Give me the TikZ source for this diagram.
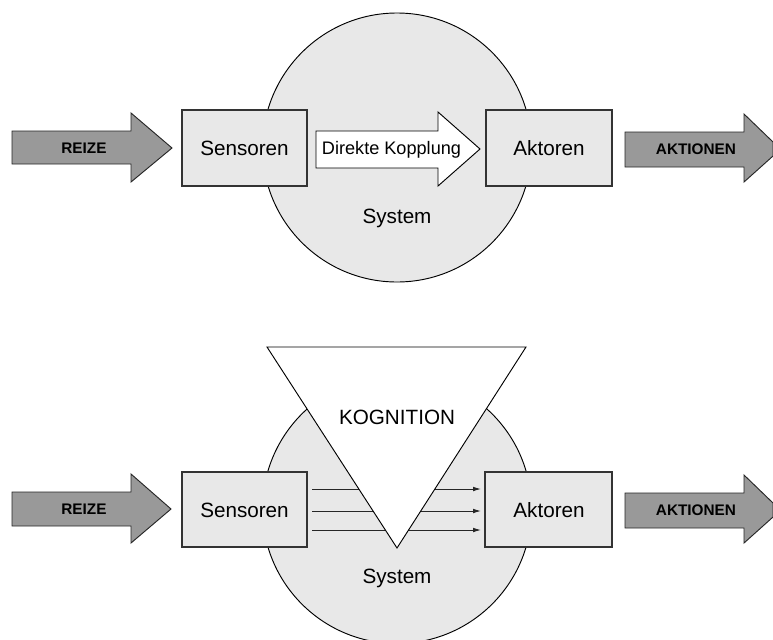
\documentclass[tikz,border=0pt]{standalone}
\usepackage{fontspec}
\setmainfont{Liberation Sans}
\usetikzlibrary{arrows.meta}
\definecolor{arrowgray}{HTML}{999999}
\definecolor{lightfill}{HTML}{E8E8E8}
\tikzset{
  sysdisc/.style={draw=black, line width=0.7pt, fill=lightfill},
  blockbox/.style={draw=black!80, line width=0.8pt, fill=lightfill},
  grayarrow/.style={draw=black!85, line width=0.7pt, fill=arrowgray},
  whitearrow/.style={draw=black, line width=0.7pt, fill=white},
  bigtext/.style={font=\fontsize{15.5}{18}\selectfont, inner sep=0pt},
  midtext/.style={font=\fontsize{13.6}{16}\selectfont, inner sep=0pt},
  boldtext/.style={font=\bfseries\fontsize{11.5}{14}\selectfont, inner sep=0pt},
  flowline/.style={draw=black!85, line width=0.7pt, -{Latex[length=6pt,width=3.5pt]}}
}
\begin{document}
\begin{tikzpicture}[x=0.75pt,y=-0.75pt]
\useasboundingbox (0,0) rectangle (773,639);
% ===== top diagram =====
\draw[sysdisc] (397,147.5) circle [radius=134.5];
\node[bigtext] (sys1) at (397,218) {System};
\draw[grayarrow] (12,131) -- (131,131) -- (131,113) -- (172,148) -- (131,182) -- (131,164) -- (12,164) -- cycle;
\node[boldtext] (reize1) at (84,148.5) {REIZE};
\draw[blockbox] (182,110) rectangle (307,186);
\node[bigtext] (sens1) at (244.5,148) {Sensoren};
\draw[whitearrow] (316,131) -- (438,131) -- (438,112) -- (480,149) -- (438,186) -- (438,168) -- (316,168) -- cycle;
\node[midtext] (dk) at (391.5,149.5) {Direkte Kopplung};
\draw[blockbox] (486,110) rectangle (612,186);
\node[bigtext] (akt1) at (549,148) {Aktoren};
\draw[grayarrow] (625,132) -- (744,132) -- (744,114) -- (773,142) -- (773,156) -- (744,182) -- (744,167) -- (625,167) -- cycle;
\node[boldtext] (akti1) at (696,149) {AKTIONEN};
% ===== bottom diagram =====
\draw[sysdisc] (397,509) circle [radius=134.5];
\node[bigtext] (sys2) at (397,578) {System};
\draw[grayarrow] (12,492) -- (131,492) -- (131,474) -- (171,509) -- (131,543) -- (131,526) -- (12,526) -- cycle;
\node[boldtext] (reize2) at (84,509.5) {REIZE};
\draw[blockbox] (182,472) rectangle (307,547);
\node[bigtext] (sens2) at (244.5,510) {Sensoren};
\draw[blockbox] (485,472) rectangle (612,547);
\node[bigtext] (akt2) at (549,510) {Aktoren};
\draw[grayarrow] (625,493) -- (744,493) -- (744,475) -- (773,503) -- (773,517) -- (744,543) -- (744,528) -- (625,528) -- cycle;
\node[boldtext] (akti2) at (696,510) {AKTIONEN};
% flow lines
\coordinate (s1) at (312,489); \coordinate (e1) at (481,489);
\coordinate (s2) at (312,511); \coordinate (e2) at (481,511);
\coordinate (s3) at (312,530); \coordinate (e3) at (481,530);
\draw[flowline] (s1) -- (e1);
\draw[flowline] (s2) -- (e2);
\draw[flowline] (s3) -- (e3);
% cognition triangle
\draw[whitearrow] (267,347) -- (526,347) -- (397,548) -- cycle;
\node[bigtext] (kog) at (397,417) {KOGNITION};
\end{tikzpicture}
\end{document}
